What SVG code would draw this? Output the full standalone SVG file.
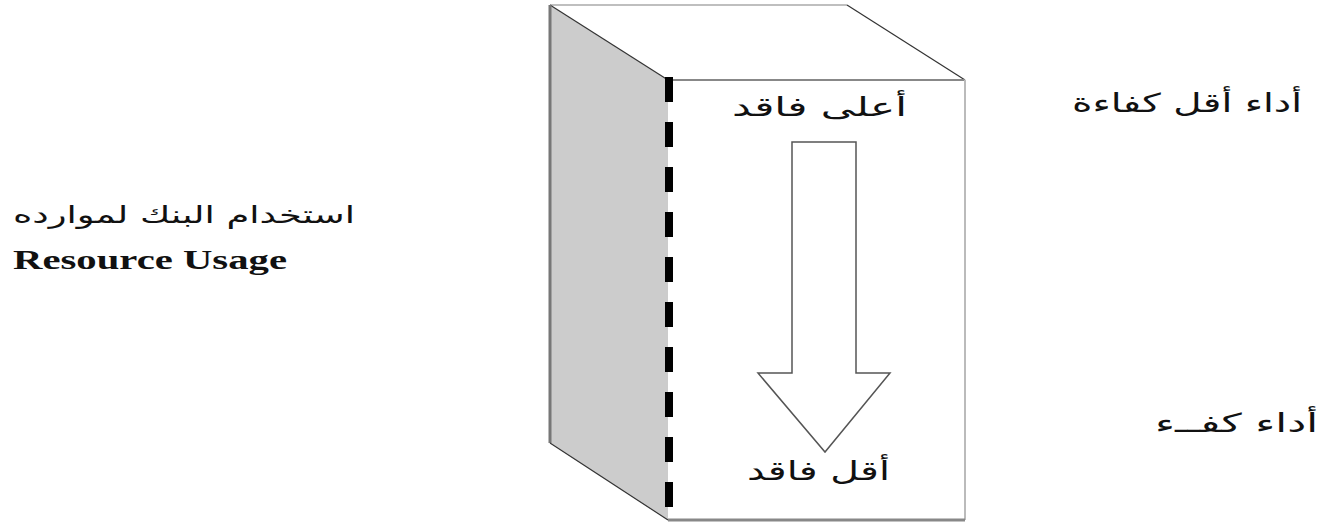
<svg xmlns="http://www.w3.org/2000/svg" width="1324" height="524" viewBox="0 0 1324 524">
<style>
.ar{font-family:"DejaVu Sans","Noto Sans",sans-serif;fill:#111}
.en{font-family:"Liberation Serif","Times New Roman",serif;font-weight:bold;fill:#111}
.thin{stroke:#333;stroke-width:1.2;fill:none}
.gray{stroke:#888;stroke-width:2;fill:none}
</style>
<rect width="1324" height="524" fill="#ffffff"/>
<g id="cube">
<polygon points="550,5 668,80 668,520 550,443" fill="#cccccc"/>
<polygon points="550,5 847,5 965,80 668,80" fill="#ffffff"/>
<rect x="668" y="80" width="297" height="440" fill="#ffffff"/>
<line x1="550" y1="5" x2="847" y2="5" stroke="#aaa" stroke-width="1.5"/>
<line x1="550" y1="5" x2="668" y2="80" class="thin"/>
<line x1="847" y1="5" x2="965" y2="80" class="thin"/>
<line x1="668" y1="80" x2="965" y2="80" class="gray"/>
<line x1="550" y1="5" x2="550" y2="443" stroke="#777" stroke-width="3"/>
<line x1="550" y1="443" x2="668" y2="520" class="thin"/>
<line x1="965" y1="80" x2="965" y2="520" stroke="#bbb" stroke-width="2"/>
<line x1="668" y1="520" x2="965" y2="520" stroke="#888" stroke-width="3"/>
<line x1="669" y1="77" x2="669" y2="520" stroke="#000" stroke-width="8" stroke-dasharray="25 20"/>
</g>
<g id="arrow">
<polygon points="792,142 856,142 856,373 890,373 825,452 758,373 792,373" fill="#ffffff" stroke="#555" stroke-width="1.5"/>
</g>
<g id="label-top">
<text class="ar" x="819.5" y="116" font-size="26" text-anchor="middle" textLength="175" lengthAdjust="spacingAndGlyphs">أعلى فاقد</text>
</g>
<g id="label-bottom">
<text class="ar" x="818.5" y="480" font-size="26" text-anchor="middle" textLength="143" lengthAdjust="spacingAndGlyphs">أقل فاقد</text>
</g>
<g id="label-right-1">
<text class="ar" x="1187" y="112" font-size="26" text-anchor="middle" textLength="230" lengthAdjust="spacingAndGlyphs">أداء أقل كفاءة</text>
</g>
<g id="label-right-2">
<text class="ar" x="1236.5" y="432" font-size="26" text-anchor="middle" textLength="163" lengthAdjust="spacingAndGlyphs">أداء كفــء</text>
</g>
<g id="label-left">
<text class="ar" x="184" y="223" font-size="24" text-anchor="middle" textLength="342" lengthAdjust="spacingAndGlyphs">استخدام البنك لموارده</text>
<text class="en" x="150" y="269" font-size="27" text-anchor="middle" textLength="274" lengthAdjust="spacingAndGlyphs">Resource Usage</text>
</g>
<g id="connectors"></g>
</svg>
